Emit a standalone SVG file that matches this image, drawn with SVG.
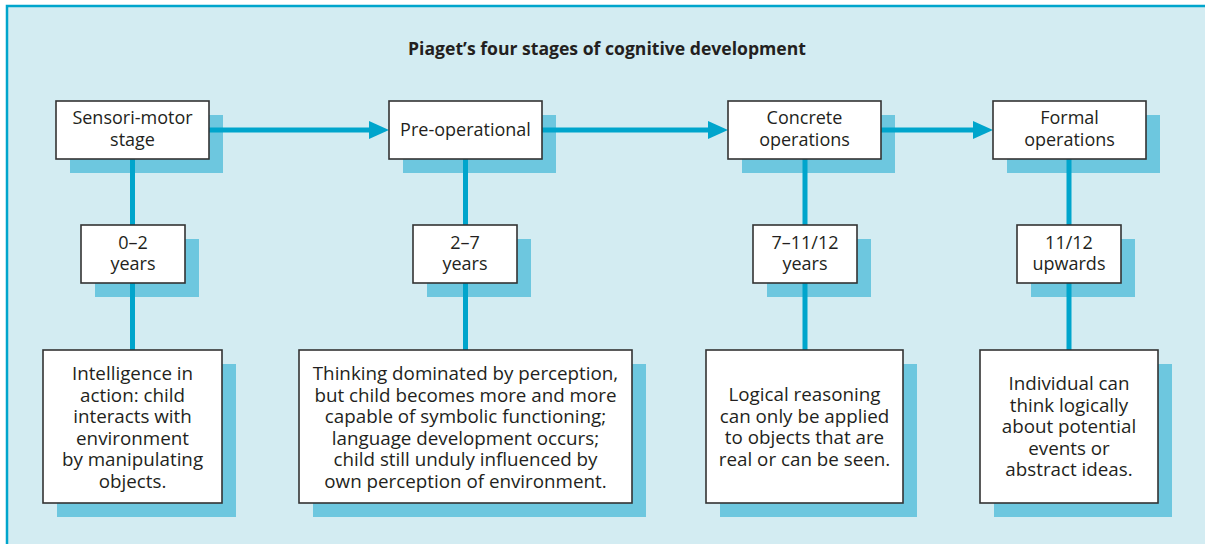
<svg xmlns="http://www.w3.org/2000/svg" width="1205" height="544" viewBox="0 0 1205 544">
<style>
.bg{fill:#d3ecf2;stroke:#00a5cc;stroke-width:2.5}
.sh{fill:#6dc7df}
.bx{fill:#ffffff;stroke:#333333;stroke-width:1.6}
.ln{stroke:#00a5cc;stroke-width:5;fill:none}
.ah{fill:#00a5cc}
text{font-family:"Open Sans","Noto Sans",sans-serif;font-size:18px;fill:#231f20;text-anchor:middle}
.ttl{font-weight:bold;font-size:17.6px}
.d{font-size:18.8px}
</style>
<rect class="bg" x="7" y="6" width="1210" height="560"/>
<text class="ttl" x="607" y="55">Piaget’s four stages of cognitive development</text>
<g id="shadows">
<rect class="sh" x="70" y="115" width="153" height="58"/>
<rect class="sh" x="403" y="115" width="153" height="58"/>
<rect class="sh" x="742" y="115" width="153" height="58"/>
<rect class="sh" x="1007" y="115" width="153" height="58"/>
<rect class="sh" x="95" y="239" width="104" height="58"/>
<rect class="sh" x="427" y="239" width="104" height="58"/>
<rect class="sh" x="767" y="239" width="104" height="58"/>
<rect class="sh" x="1031" y="239" width="104" height="58"/>
<rect class="sh" x="57" y="364" width="179" height="153"/>
<rect class="sh" x="313" y="364" width="333" height="153"/>
<rect class="sh" x="720" y="364" width="197" height="153"/>
<rect class="sh" x="994" y="364" width="178" height="153"/>
</g>
<g id="connectors">
<line class="ln" x1="209" y1="130" x2="370" y2="130"/>
<polygon class="ah" points="369,121 389,130 369,139"/>
<line class="ln" x1="542" y1="130" x2="709" y2="130"/>
<polygon class="ah" points="708,121 728,130 708,139"/>
<line class="ln" x1="881" y1="130" x2="974" y2="130"/>
<polygon class="ah" points="973,121 993,130 973,139"/>
<line class="ln" x1="132.5" y1="159" x2="132.5" y2="350"/>
<line class="ln" x1="465.5" y1="159" x2="465.5" y2="350"/>
<line class="ln" x1="805" y1="159" x2="805" y2="350"/>
<line class="ln" x1="1069" y1="159" x2="1069" y2="350"/>
</g>
<g id="sensorimotor">
<rect class="bx" x="56" y="101" width="153" height="58"/>
<text x="132.5" y="124">Sensori-motor<tspan x="132.5" dy="22">stage</tspan></text>
</g>
<g id="preoperational">
<rect class="bx" x="389" y="101" width="153" height="58"/>
<text x="465.5" y="136">Pre-operational</text>
</g>
<g id="concrete">
<rect class="bx" x="728" y="101" width="153" height="58"/>
<text x="804.5" y="124">Concrete<tspan x="804.5" dy="22">operations</tspan></text>
</g>
<g id="formal">
<rect class="bx" x="993" y="101" width="153" height="58"/>
<text x="1069.5" y="124">Formal<tspan x="1069.5" dy="22">operations</tspan></text>
</g>
<g id="age1">
<rect class="bx" x="81" y="225" width="104" height="58"/>
<text x="133" y="249">0–2<tspan x="133" dy="21">years</tspan></text>
</g>
<g id="age2">
<rect class="bx" x="413" y="225" width="104" height="58"/>
<text x="465" y="249">2–7<tspan x="465" dy="21">years</tspan></text>
</g>
<g id="age3">
<rect class="bx" x="753" y="225" width="104" height="58"/>
<text x="805" y="249">7–11/12<tspan x="805" dy="21">years</tspan></text>
</g>
<g id="age4">
<rect class="bx" x="1017" y="225" width="104" height="58"/>
<text x="1069" y="249">11/12<tspan x="1069" dy="21">upwards</tspan></text>
</g>
<g id="desc1">
<rect class="bx" x="43" y="350" width="179" height="153"/>
<text class="d" x="132.5" y="380">Intelligence in<tspan x="132.5" dy="21.5">action: child</tspan><tspan x="132.5" dy="21.5">interacts with</tspan><tspan x="132.5" dy="21.5">environment</tspan><tspan x="132.5" dy="21.5">by manipulating</tspan><tspan x="132.5" dy="21.5">objects.</tspan></text>
</g>
<g id="desc2">
<rect class="bx" x="299" y="350" width="333" height="153"/>
<text class="d" x="465.5" y="380">Thinking dominated by perception,<tspan x="465.5" dy="21.5">but child becomes more and more</tspan><tspan x="465.5" dy="21.5">capable of symbolic functioning;</tspan><tspan x="465.5" dy="21.5">language development occurs;</tspan><tspan x="465.5" dy="21.5">child still unduly influenced by</tspan><tspan x="465.5" dy="21.5">own perception of environment.</tspan></text>
</g>
<g id="desc3">
<rect class="bx" x="706" y="350" width="197" height="153"/>
<text class="d" x="804.5" y="401">Logical reasoning<tspan x="804.5" dy="21.5">can only be applied</tspan><tspan x="804.5" dy="21.5">to objects that are</tspan><tspan x="804.5" dy="21.5">real or can be seen.</tspan></text>
</g>
<g id="desc4">
<rect class="bx" x="980" y="350" width="178" height="153"/>
<text class="d" x="1069" y="390">Individual can<tspan x="1069" dy="21.5">think logically</tspan><tspan x="1069" dy="21.5">about potential</tspan><tspan x="1069" dy="21.5">events or</tspan><tspan x="1069" dy="21.5">abstract ideas.</tspan></text>
</g>
</svg>
